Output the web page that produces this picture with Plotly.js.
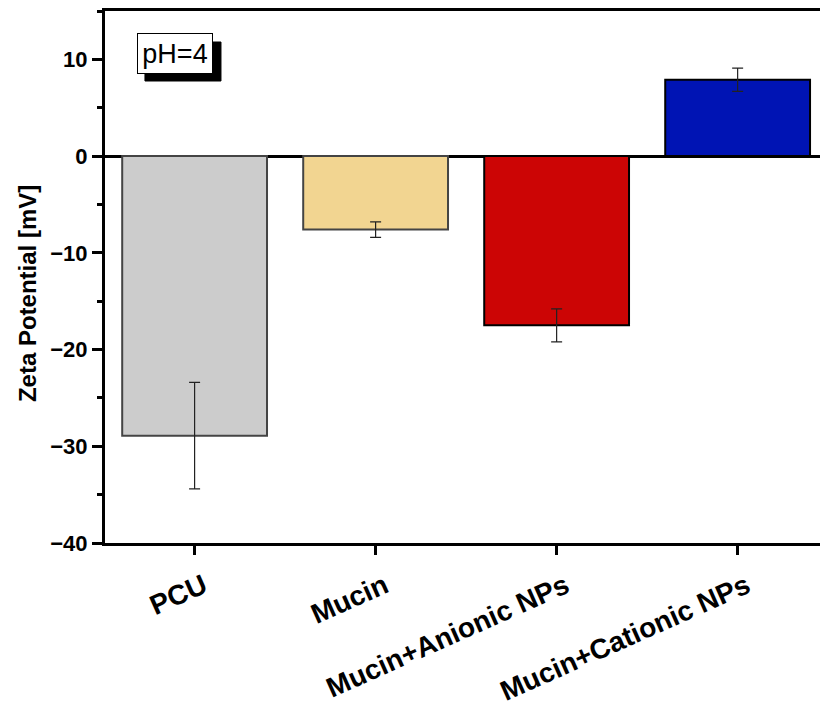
<!DOCTYPE html>
<html>
<head>
<meta charset="utf-8">
<script src="https://cdn.plot.ly/plotly-3.0.1.min.js"></script>
<style>html,body{margin:0;padding:0;background:#fff;}#chart{width:820px;height:711px;}</style>
</head>
<body>
<div id="chart"></div>
<script>
const categories = ["PCU", "Mucin", "Mucin+Anionic NPs", "Mucin+Cationic NPs"];
const zetaValues = [-28.9, -7.6, -17.5, 7.9];
const zetaErrors = [5.5, 0.8, 1.7, 1.2];
const barColors = ["#cccccc", "#f2d591", "#cc0505", "#0014b4"];
const barEdgeColors = ["#444444", "#444444", "#000000", "#000000"];
const yTickValues = [-40, -30, -20, -10, 0, 10];
const yTickLabels = ["\u221240", "\u221230", "\u221220", "\u221210", "0", "10"];
const yMinorTicks = [-35, -25, -15, -5, 5, 15];
const yTitle = "Zeta Potential [mV]";
const annotationText = "pH=4";

const font = "Arial, 'Liberation Sans', sans-serif";

const trace = {
  type: "bar",
  x: categories,
  y: zetaValues,
  width: 0.8,
  marker: { color: barColors, line: { color: barEdgeColors, width: 2 } },
  error_y: { type: "data", array: zetaErrors, visible: true, color: "#222222", thickness: 1.2, width: 5.5 },
  hoverinfo: "x+y"
};

const layout = {
  width: 820, height: 711,
  margin: { l: 105, r: 0, t: 11, b: 168 },
  paper_bgcolor: "#ffffff",
  plot_bgcolor: "#ffffff",
  showlegend: false,
  font: { family: font, color: "#000" },
  xaxis: {
    type: "category",
    range: [-0.495, 3.455],
    showline: true, linecolor: "#000", linewidth: 3,
    mirror: true,
    ticks: "outside", ticklen: 9, tickwidth: 3, tickcolor: "#000",
    showgrid: false, zeroline: false,
    tickangle: -24,
    ticklabelstandoff: 4,
    ticklabelshift: 9,
    tickfont: { family: font, size: 28, color: "#000", weight: "bold" },
    minor: { ticks: "outside", ticklen: 5, tickwidth: 3, tickcolor: "#000" }
  },
  yaxis: {
    range: [-40, 15],
    showline: true, linecolor: "#000", linewidth: 3,
    mirror: false,
    ticks: "outside", ticklen: 10, tickwidth: 3, tickcolor: "#000",
    tickvals: yTickValues, ticktext: yTickLabels,
    showgrid: false,
    zeroline: true, zerolinecolor: "#000", zerolinewidth: 3,
    tickfont: { family: font, size: 22, color: "#000", weight: "bold" },
    minor: { tickvals: yMinorTicks, ticks: "outside", ticklen: 5, tickwidth: 3, tickcolor: "#000" }
  },
  shapes: [
    {
      type: "rect", xref: "paper", yref: "paper",
      x0: 0.0559, x1: 0.1622, y0: 0.8684, y1: 0.9417,
      fillcolor: "#000", line: { color: "#000", width: 1 }, layer: "above"
    }
  ],
  annotations: [
    {
      xref: "paper", yref: "paper", x: -0.109, y: 0.468, xanchor: "center", yanchor: "middle",
      text: yTitle, showarrow: false, textangle: -90,
      font: { family: font, size: 24, color: "#000", weight: "bold" }
    },
    {
      xref: "paper", yref: "paper", x: 0.098, y: 0.920, xanchor: "center", yanchor: "middle",
      text: annotationText, showarrow: false, width: 70, height: 35,
      font: { family: font, size: 27, color: "#000" },
      bgcolor: "#fff", bordercolor: "#000", borderwidth: 1, borderpad: 2
    }
  ]
};

Plotly.newPlot("chart", [trace], layout, { staticPlot: true, displayModeBar: false });
</script>
</body>
</html>
